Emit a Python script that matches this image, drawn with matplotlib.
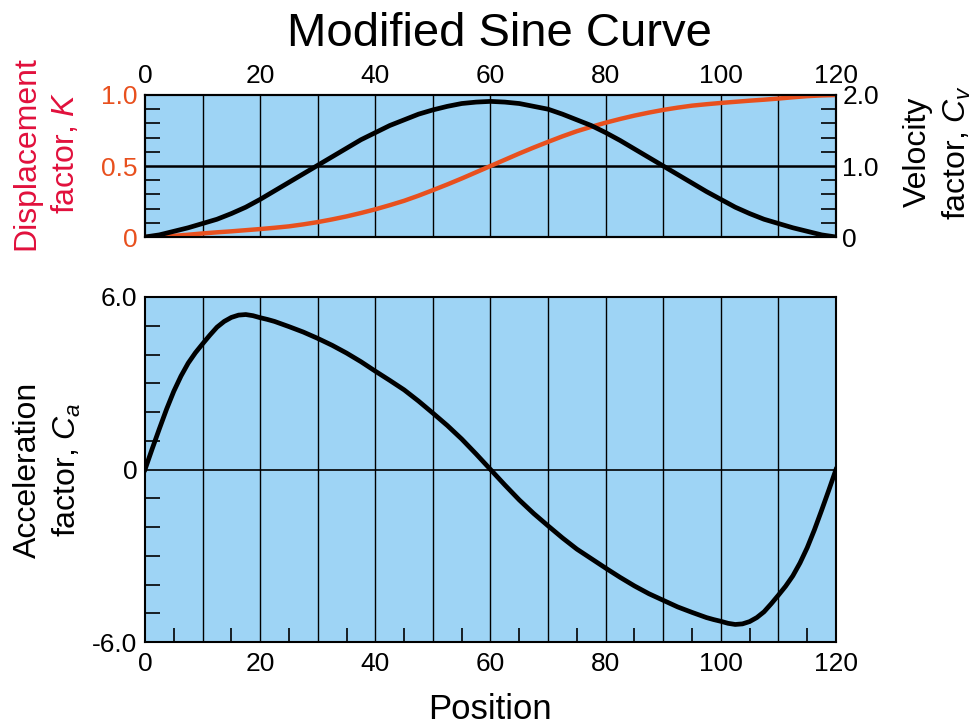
import matplotlib
matplotlib.use("Agg")
import matplotlib.pyplot as plt

plt.rcParams['font.family'] = ['Liberation Sans', 'DejaVu Sans']
plt.rcParams['mathtext.fontset'] = 'custom'
plt.rcParams['mathtext.rm'] = 'Liberation Sans'
plt.rcParams['mathtext.it'] = 'Liberation Sans:italic'

# position (cam angle) for displacement / velocity, read every 2.5 units
position = [0, 2.5, 5, 7.5, 10, 12.5, 15, 17.5, 20, 22.5, 25, 27.5, 30, 32.5, 35, 37.5, 40,
            42.5, 45, 47.5, 50, 52.5, 55, 57.5, 60, 62.5, 65, 67.5, 70, 72.5, 75, 77.5, 80,
            82.5, 85, 87.5, 90, 92.5, 95, 97.5, 100, 102.5, 105, 107.5, 110, 112.5, 115, 117.5, 120]
displacement = [0.000, 0.003, 0.008, 0.016, 0.025, 0.033, 0.040, 0.048, 0.056, 0.065, 0.075, 0.089,
                0.105, 0.124, 0.145, 0.169, 0.195, 0.224, 0.255, 0.291, 0.330, 0.370, 0.412, 0.456,
                0.500, 0.544, 0.588, 0.630, 0.670, 0.709, 0.745, 0.776, 0.805, 0.831, 0.855, 0.876,
                0.895, 0.911, 0.925, 0.935, 0.944, 0.952, 0.960, 0.967, 0.975, 0.984, 0.992, 0.997, 1.000]
velocity = [0.00, 0.03, 0.08, 0.13, 0.19, 0.25, 0.33, 0.42, 0.53, 0.65, 0.77, 0.89,
            1.01, 1.13, 1.25, 1.37, 1.47, 1.57, 1.65, 1.73, 1.79, 1.84, 1.88, 1.90,
            1.91, 1.90, 1.88, 1.84, 1.80, 1.73, 1.65, 1.57, 1.47, 1.36, 1.24, 1.12,
            1.00, 0.88, 0.76, 0.64, 0.53, 0.42, 0.33, 0.25, 0.19, 0.13, 0.08, 0.03, 0.00]

# acceleration, finer reading where the curve bends most
position_acc = [0, 1.25, 2.5, 3.75, 5, 6.25, 7.5, 8.75, 10, 11.25, 12.5, 13.75, 15, 16.25, 17.5, 18.75,
                20, 21.25, 22.5, 25, 27.5, 30, 32.5, 35, 37.5, 40, 42.5, 45, 47.5, 50, 52.5, 55, 57.5, 60,
                62.5, 65, 67.5, 70, 72.5, 75, 77.5, 80, 82.5, 85, 87.5, 90, 92.5, 95,
                97.5, 98.75, 100, 101.25, 102.5, 103.75, 105, 106.25, 107.5, 108.75, 110,
                111.25, 112.5, 113.75, 115, 116.25, 117.5, 118.75, 120]
acceleration = [0.00, 0.72, 1.42, 2.10, 2.72, 3.25, 3.70, 4.06, 4.37, 4.67, 4.95, 5.15, 5.29, 5.37, 5.39, 5.35,
                5.28, 5.22, 5.15, 4.97, 4.78, 4.56, 4.32, 4.05, 3.75, 3.42, 3.10, 2.77, 2.38, 1.96, 1.53, 1.06, 0.54, 0.00,
                -0.54, -1.06, -1.53, -1.96, -2.38, -2.77, -3.10, -3.43, -3.75, -4.05, -4.32, -4.55, -4.78, -4.97,
                -5.15, -5.22, -5.28, -5.35, -5.39, -5.37, -5.29, -5.15, -4.95, -4.67, -4.37,
                -4.06, -3.70, -3.25, -2.72, -2.10, -1.42, -0.72, 0.00]

x_major = [0, 20, 40, 60, 80, 100, 120]
grid_x = [10, 20, 30, 40, 50, 60, 70, 80, 90, 100, 110]

bg = '#9ED4F5'
orange = '#E8501E'
red = '#E1103C'
tick_fs = 19
label_fs = 23

fig = plt.figure(figsize=(9.77, 7.25), dpi=100)
W, H = 977, 725
ax_top = fig.add_axes([145 / W, 1 - 237 / H, 691 / W, 142 / H])
ax_bot = fig.add_axes([145 / W, 1 - 642 / H, 691 / W, 345 / H])

# ---- top: displacement + velocity ----
ax_top.set_facecolor(bg)
ax_top.set_xlim(0, 120)
ax_top.set_ylim(0, 1)
for gx in grid_x:
    ax_top.axvline(gx, color='black', lw=1.0, zorder=1)
ax_top.axhline(0.5, color='black', lw=1.8, zorder=1)
ax_top.plot(position, displacement, color=orange, lw=3.2, zorder=3)

ax_top.xaxis.tick_top()
ax_top.set_xticks(x_major)
ax_top.tick_params(axis='x', length=0, labelsize=tick_fs, pad=5)
ax_top.set_yticks([0, 0.5, 1.0])
ax_top.set_yticklabels(['0', '0.5', '1.0'], color=orange)
ax_top.set_yticks([0.1, 0.2, 0.3, 0.4, 0.6, 0.7, 0.8, 0.9], minor=True)
ax_top.tick_params(axis='y', which='major', length=0, labelsize=tick_fs, pad=5.5)
ax_top.tick_params(axis='y', which='minor', direction='in', length=11, width=1.2)

ax_vel = ax_top.twinx()
ax_vel.set_ylim(0, 2)
ax_vel.plot(position, velocity, color='black', lw=3.4, zorder=4)
ax_vel.set_yticks([0, 1.0, 2.0])
ax_vel.set_yticklabels(['0', '1.0', '2.0'])
ax_vel.set_yticks([0.2, 0.4, 0.6, 0.8, 1.2, 1.4, 1.6, 1.8], minor=True)
ax_vel.tick_params(axis='y', which='major', length=0, labelsize=tick_fs, pad=4.5)
ax_vel.tick_params(axis='y', which='minor', direction='in', length=11, width=1.2)

for ax in (ax_top, ax_vel):
    for sp in ax.spines.values():
        sp.set_linewidth(1.5)

# ---- bottom: acceleration ----
ax_bot.set_facecolor(bg)
ax_bot.set_xlim(0, 120)
ax_bot.set_ylim(-6, 6)
for gx in grid_x:
    ax_bot.axvline(gx, color='black', lw=1.0, zorder=1)
ax_bot.axhline(0, color='black', lw=1.2, zorder=1)
ax_bot.plot(position_acc, acceleration, color='black', lw=3.4, zorder=3)

ax_bot.set_xticks(x_major)
ax_bot.set_xticks([5, 15, 25, 35, 45, 55, 65, 75, 85, 95, 105, 115], minor=True)
ax_bot.tick_params(axis='x', which='major', length=0, labelsize=tick_fs, pad=7)
ax_bot.tick_params(axis='x', which='minor', direction='in', length=10, width=1.2)
ax_bot.set_yticks([-6, 0, 6])
ax_bot.set_yticklabels(['-6.0', '0', '6.0'])
ax_bot.set_yticks([-5, -4, -3, -2, -1, 1, 2, 3, 4, 5], minor=True)
ax_bot.tick_params(axis='y', which='major', length=0, labelsize=tick_fs, pad=5.5)
ax_bot.tick_params(axis='y', which='minor', direction='in', length=11, width=1.2)
for sp in ax_bot.spines.values():
    sp.set_linewidth(1.5)

# axis titles placed in figure pixels
fig.text(46 / W, 1 - 153 / H, "Displacement\nfactor, $K$", color=red, fontsize=label_fs,
         rotation=90, ha='center', va='center', linespacing=1.35)
fig.text(938 / W, 1 - 152 / H, "Velocity\nfactor, $C_v$", fontsize=label_fs,
         rotation=90, ha='center', va='center', linespacing=1.35)
fig.text(48 / W, 1 - 470 / H, "Acceleration\nfactor, $C_a$", fontsize=label_fs,
         rotation=90, ha='center', va='center', linespacing=1.35)
fig.text(499 / W, 1 - 46 / H, "Modified Sine Curve", fontsize=34, ha='center', va='baseline')
fig.text(490 / W, 1 - 719 / H, "Position", fontsize=25, ha='center', va='baseline')

fig.savefig("out.png", dpi=100)
